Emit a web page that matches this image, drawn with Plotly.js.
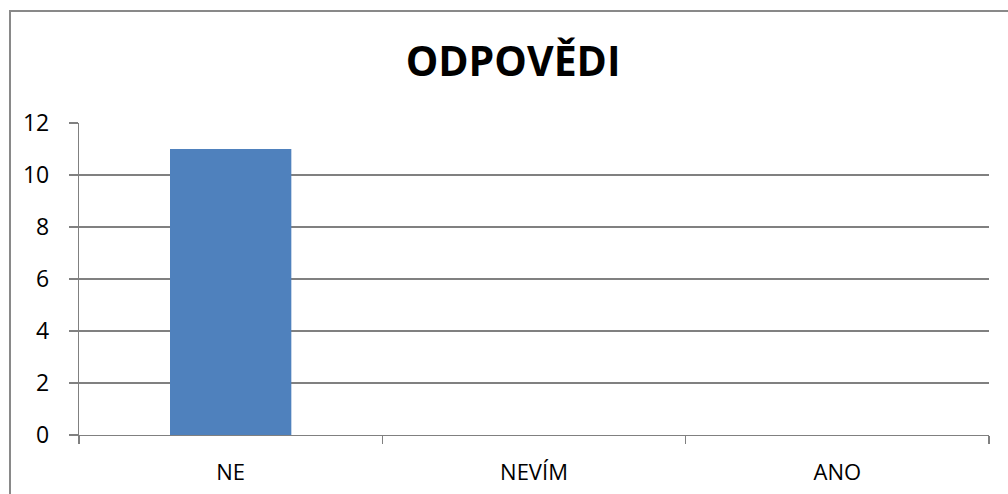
<!DOCTYPE html>
<html>
<head>
<meta charset="utf-8">
<script src="https://cdn.plot.ly/plotly-3.0.1.min.js"></script>
<style>
  html, body { margin: 0; padding: 0; background: #fff; }
  #wrap { position: relative; width: 1008px; height: 494px; }
  #chart { position: absolute; left: 0; top: 0; width: 1008px; height: 494px; }
  #frame { position: absolute; left: 9px; top: 10px; right: -5px; bottom: -5px;
           border-left: 2px solid #898989; border-top: 2px solid #898989; pointer-events: none; }
</style>
</head>
<body>
<div id="wrap">
  <div id="chart"></div>
  <div id="frame"></div>
</div>
<script>
const chartTitle = "ODPOVĚDI";
const categories = ["NE", "NEVÍM", "ANO"];
const counts = [11, 0, 0];
const yTicks = [0, 2, 4, 6, 8, 10, 12];

const gray = "#808080";
const font = "'Open Sans', 'Noto Sans', sans-serif";

const trace = {
  type: "bar",
  x: categories,
  y: counts,
  marker: { color: "#4F81BD" },
  hoverinfo: "x+y"
};

const layout = {
  width: 1008,
  height: 494,
  margin: { l: 79, r: 19, t: 123, b: 59 },
  paper_bgcolor: "rgba(0,0,0,0)",
  plot_bgcolor: "rgba(0,0,0,0)",
  bargap: 0.6,
  showlegend: false,
  title: {
    text: "<b>" + chartTitle + "</b>",
    font: { family: font, size: 41, color: "#000" },
    xref: "container", yref: "container",
    x: 0.509, xanchor: "center",
    y: 1 - 62 / 494, yanchor: "middle"
  },
  xaxis: {
    type: "category",
    showline: true, linecolor: gray, linewidth: 1.2,
    ticks: "outside", tickson: "boundaries", ticklen: 8, tickcolor: gray, tickwidth: 1.2,
    showgrid: false,
    tickfont: { family: font, size: 22, color: "#000" },
    ticklabelstandoff: 17
  },
  yaxis: {
    range: [0, 12],
    tickvals: yTicks,
    ticktext: yTicks.map(String),
    showline: true, linecolor: gray, linewidth: 1.2,
    ticks: "outside", ticklen: 9, tickcolor: gray, tickwidth: 1.2,
    showgrid: true, gridcolor: gray, gridwidth: 1.2,
    zeroline: false,
    tickfont: { family: font, size: 23, color: "#000" },
    ticklabelstandoff: 15
  }
};

Plotly.newPlot("chart", [trace], layout, { displayModeBar: false, staticPlot: true });
</script>
</body>
</html>
